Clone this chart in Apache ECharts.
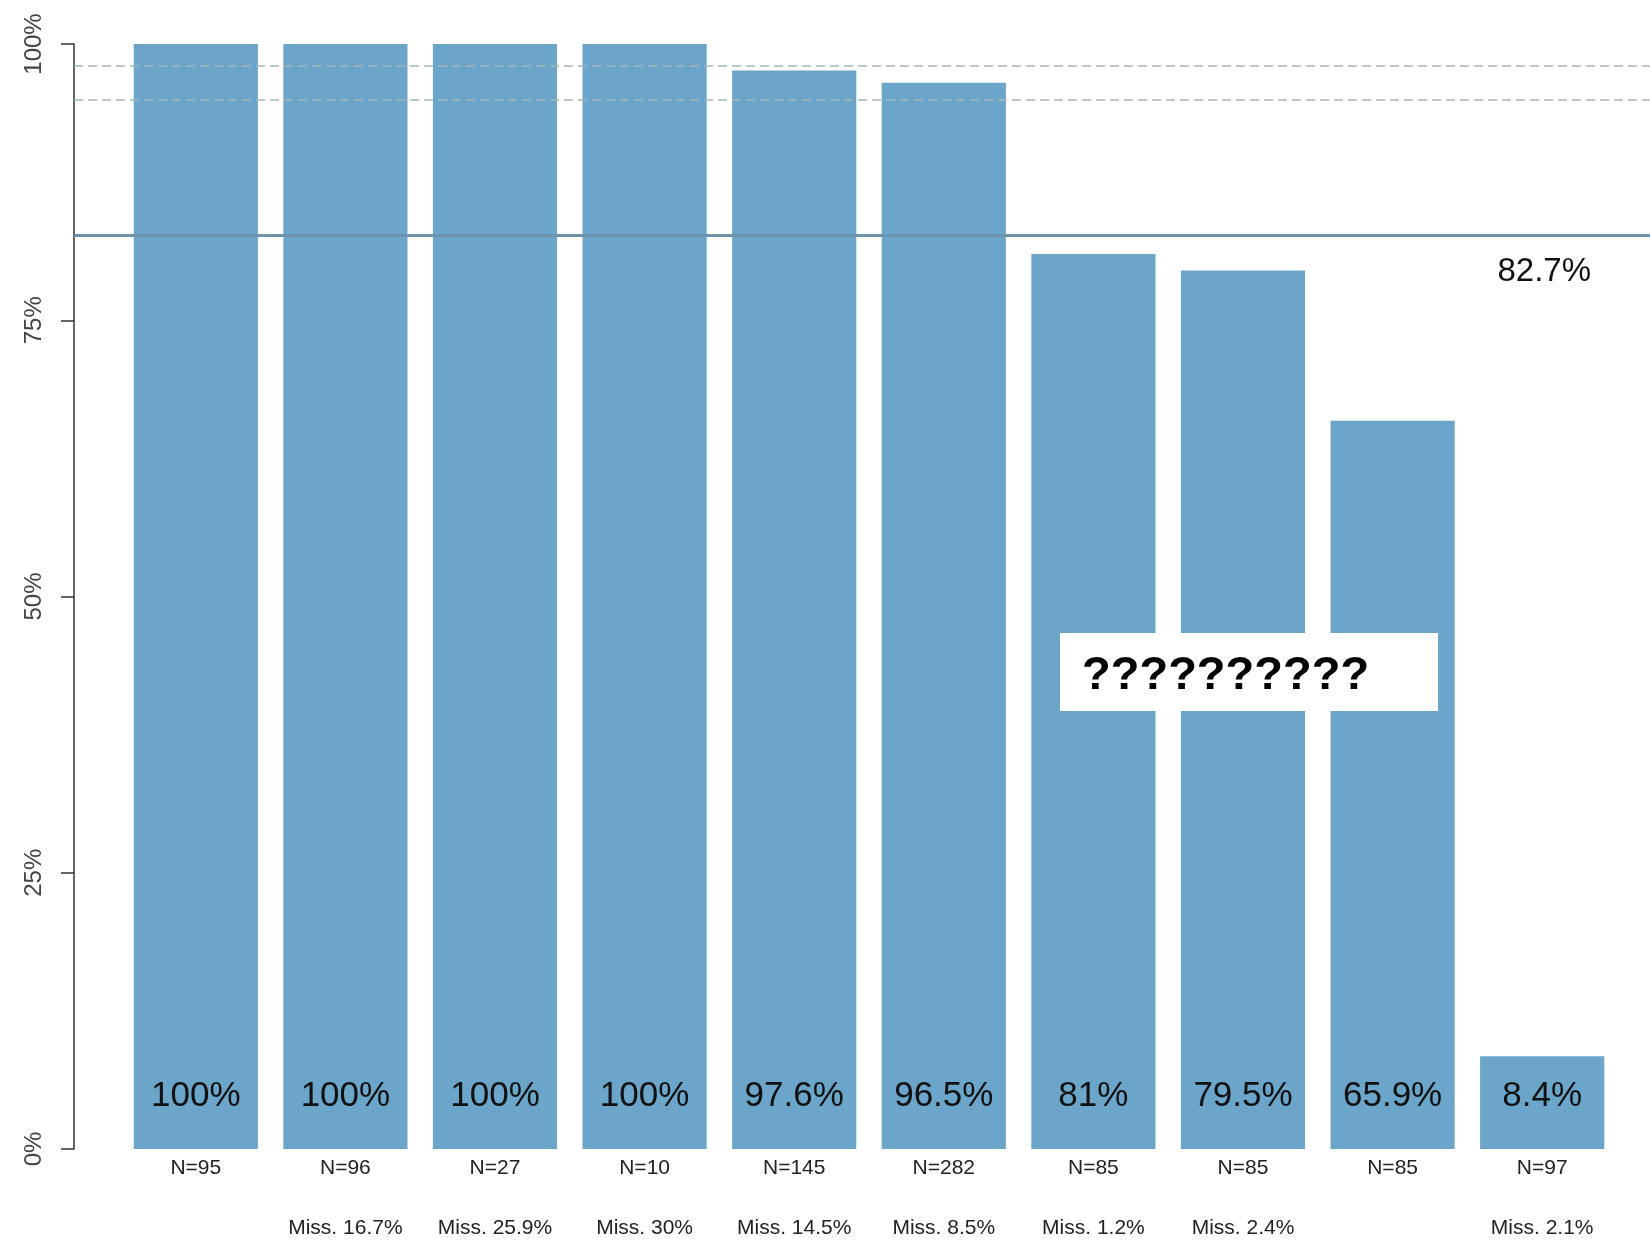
<!DOCTYPE html>
<html><head><meta charset="utf-8">
<script src="https://cdn.jsdelivr.net/npm/echarts@6/dist/echarts.min.js"></script>
<style>html,body{margin:0;padding:0;background:#fff}#c{width:1650px;height:1244px}</style>
</head><body><div id="c"></div>
<script>
const nLabels = ['N=95','N=96','N=27','N=10','N=145','N=282','N=85','N=85','N=85','N=97'];
const missLabels = ['','Miss. 16.7%','Miss. 25.9%','Miss. 30%','Miss. 14.5%','Miss. 8.5%','Miss. 1.2%','Miss. 2.4%','','Miss. 2.1%'];
const values = [100,100,100,100,97.6,96.5,81,79.5,65.9,8.4];
const valueLabels = ['100%','100%','100%','100%','97.6%','96.5%','81%','79.5%','65.9%','8.4%'];
const dashedLines = [98, 95];
const meanLine = 82.7;
const yTicks = [0,25,50,75,100];
const boxText = '??????????';

const FONT = "'Liberation Sans', Arial, sans-serif";
const chart = echarts.init(document.getElementById('c'), null, {renderer:'canvas'});
const cats = values.map((v,i)=>String(i));

const option = {
  backgroundColor:'#ffffff',
  animation:false,
  grid:[
    {left:121, right:33, top:44, bottom:95},
    {left:74, right:0, top:44, bottom:95}
  ],
  xAxis:[
    {type:'category', gridIndex:0, data:cats,
     axisLine:{show:false}, axisTick:{show:false},
     axisLabel:{margin:7, interval:0,
       formatter:(v,i)=>'{n|'+nLabels[i]+'}\n{m|'+(missLabels[i]||' ')+'}',
       rich:{
         n:{fontFamily:FONT, fontSize:21, color:'#222', lineHeight:24},
         m:{fontFamily:FONT, fontSize:21, color:'#222', lineHeight:96}
       }}},
    {type:'value', gridIndex:1, min:0, max:1, show:false}
  ],
  yAxis:[
    {type:'value', gridIndex:0, min:0, max:100, show:false},
    {type:'value', gridIndex:1, min:0, max:100, interval:25,
     axisLine:{show:true, lineStyle:{color:'#333', width:1.5}},
     axisTick:{show:true, length:13, lineStyle:{color:'#333', width:1.5}},
     splitLine:{show:false},
     axisLabel:{rotate:90, margin:28, fontFamily:FONT, fontSize:24, color:'#444',
       formatter:(v)=> yTicks.includes(v) ? v+'%' : ''}}
  ],
  series:[
    {type:'line', xAxisIndex:1, yAxisIndex:1, data:[], z:1, silent:true,
     markLine:{symbol:'none', silent:true, animation:false,
       data:[
         ...dashedLines.map(v=>({yAxis:v, lineStyle:{type:[9,5], color:'#a3b6b8', width:1.5}, label:{show:false}})),
         {yAxis:meanLine, lineStyle:{type:'solid', color:'#6e93ae', width:3},
          label:{show:true, position:'insideEndBottom', formatter:meanLine+'%', fontFamily:FONT, fontSize:33, color:'#111', distance:5, padding:[15,54,0,0]}}
       ]}},
    {type:'bar', xAxisIndex:0, yAxisIndex:0, data:values, z:2,
     barCategoryGap:'17%',
     itemStyle:{color:'#6ba5ca'},
     label:{show:true, position:'insideBottom', distance:33,
       formatter:(p)=>valueLabels[p.dataIndex],
       fontFamily:FONT, fontSize:35, color:'#111', lineHeight:40}}
  ],
  graphic:[
    {type:'rect', left:1060, top:633, z:100, zlevel:1, shape:{width:378,height:78}, style:{fill:'#ffffff'}},
    {type:'text', left:1082, top:620, z:101, zlevel:1, style:{text:boxText, fontFamily:FONT, fontWeight:'bold', fontSize:47, fill:'#000', lineHeight:112}}
  ]
};
chart.setOption(option);
</script>
</body></html>
